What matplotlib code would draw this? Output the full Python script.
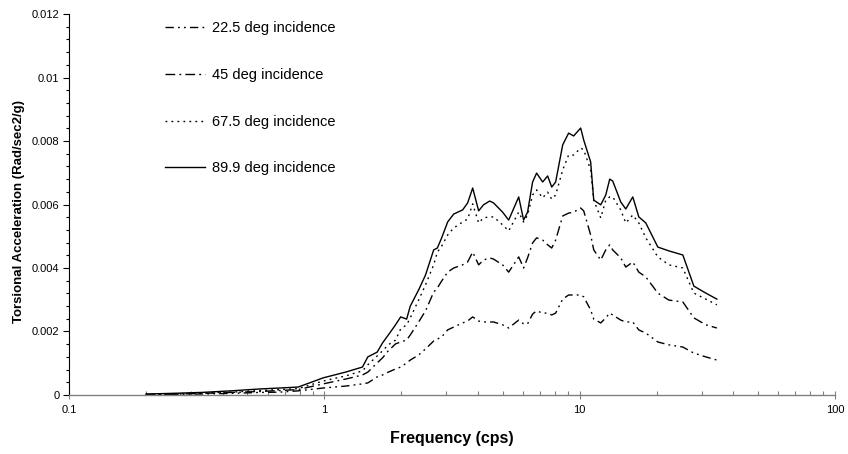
"""Torsional acceleration response spectra for four incidence angles."""

import matplotlib

matplotlib.use("Agg")

import matplotlib.pyplot as plt
from matplotlib.ticker import FixedLocator, MultipleLocator, NullFormatter


FREQUENCY = [
    0.20, 0.25, 0.33, 0.43, 0.56, 0.67, 0.79, 0.99, 1.21, 1.41,
    1.48, 1.61, 1.69, 1.78, 1.90, 1.99, 2.10, 2.17, 2.34, 2.49,
    2.68, 2.77, 2.88, 3.04, 3.21, 3.48, 3.64, 3.81, 4.02, 4.20,
    4.44, 4.60, 4.99, 5.27, 5.77, 6.03, 6.25, 6.54, 6.78, 7.16,
    7.49, 7.77, 8.05, 8.58, 9.05, 9.47, 10.09, 10.37, 11.04, 11.35,
    12.09, 12.65, 13.11, 13.47, 14.48, 15.15, 16.14, 17.04, 18.15, 20.23,
    22.34, 25.35, 27.99, 31.19, 34.45,
]

ACC_22_5 = [
    0.00001, 0.00002, 0.00003, 0.00005, 0.00008, 0.00009, 0.00013, 0.00022, 0.00028, 0.00035,
    0.00038, 0.00057, 0.00063, 0.00072, 0.00082, 0.00088, 0.00101, 0.00110, 0.00126, 0.00145,
    0.00170, 0.00176, 0.00183, 0.00205, 0.00214, 0.00227, 0.00233, 0.00246, 0.00233, 0.00230,
    0.00230, 0.00230, 0.00221, 0.00211, 0.00236, 0.00224, 0.00224, 0.00255, 0.00265, 0.00258,
    0.00258, 0.00252, 0.00258, 0.00302, 0.00315, 0.00315, 0.00315, 0.00309, 0.00268, 0.00239,
    0.00227, 0.00243, 0.00258, 0.00252, 0.00236, 0.00230, 0.00230, 0.00205, 0.00195, 0.00167,
    0.00158, 0.00151, 0.00132, 0.00120, 0.00110,
]

ACC_45 = [
    0.00002, 0.00002, 0.00005, 0.00008, 0.00011, 0.00014, 0.00017, 0.00035, 0.00050, 0.00063,
    0.00072, 0.00101, 0.00117, 0.00139, 0.00161, 0.00167, 0.00173, 0.00189, 0.00230, 0.00265,
    0.00324, 0.00337, 0.00359, 0.00387, 0.00400, 0.00410, 0.00419, 0.00450, 0.00410, 0.00425,
    0.00432, 0.00428, 0.00410, 0.00387, 0.00435, 0.00400, 0.00432, 0.00479, 0.00495, 0.00488,
    0.00473, 0.00463, 0.00488, 0.00564, 0.00573, 0.00576, 0.00589, 0.00580, 0.00504, 0.00457,
    0.00425, 0.00457, 0.00473, 0.00457, 0.00432, 0.00403, 0.00419, 0.00387, 0.00372, 0.00321,
    0.00299, 0.00293, 0.00243, 0.00221, 0.00211,
]

ACC_67_5 = [
    0.00002, 0.00003, 0.00006, 0.00009, 0.00014, 0.00017, 0.00020, 0.00044, 0.00060, 0.00076,
    0.00095, 0.00123, 0.00139, 0.00158, 0.00173, 0.00208, 0.00221, 0.00243, 0.00299, 0.00347,
    0.00410, 0.00450, 0.00469, 0.00504, 0.00526, 0.00545, 0.00554, 0.00602, 0.00542, 0.00558,
    0.00561, 0.00561, 0.00536, 0.00517, 0.00576, 0.00545, 0.00567, 0.00630, 0.00646, 0.00621,
    0.00639, 0.00617, 0.00630, 0.00709, 0.00756, 0.00756, 0.00778, 0.00772, 0.00709, 0.00614,
    0.00558, 0.00614, 0.00624, 0.00624, 0.00583, 0.00542, 0.00567, 0.00542, 0.00495, 0.00435,
    0.00410, 0.00400, 0.00321, 0.00302, 0.00284,
]

ACC_89_9 = [
    0.00003, 0.00005, 0.00008, 0.00013, 0.00019, 0.00022, 0.00025, 0.00054, 0.00072, 0.00088,
    0.00120, 0.00135, 0.00164, 0.00189, 0.00221, 0.00246, 0.00239, 0.00280, 0.00331, 0.00378,
    0.00457, 0.00463, 0.00495, 0.00545, 0.00570, 0.00583, 0.00605, 0.00652, 0.00580, 0.00599,
    0.00611, 0.00605, 0.00576, 0.00551, 0.00624, 0.00551, 0.00576, 0.00671, 0.00699, 0.00671,
    0.00690, 0.00655, 0.00671, 0.00788, 0.00825, 0.00816, 0.00841, 0.00803, 0.00734, 0.00614,
    0.00599, 0.00630, 0.00680, 0.00674, 0.00608, 0.00586, 0.00624, 0.00561, 0.00542, 0.00466,
    0.00454, 0.00441, 0.00343, 0.00321, 0.00302,
]

SERIES_LABELS = [
    "22.5 deg incidence",
    "45 deg incidence",
    "67.5 deg incidence",
    "89.9 deg incidence",
]

Y_TICKS = [0, 0.002, 0.004, 0.006, 0.008, 0.01, 0.012]
Y_TICK_LABELS = ["0", "0.002", "0.004", "0.006", "0.008", "0.01", "0.012"]
X_TICKS = [0.1, 1, 10, 100]
X_TICK_LABELS = ["0.1", "1", "10", "100"]

LINE_DASHES = [
    (6, 3, 1.3, 3, 1.3, 3),
    (7, 3, 1.3, 3),
    (1.3, 3),
    None,
]

FONT = "Liberation Sans"


def draw_chart():
    plt.rcParams["font.family"] = [FONT, "DejaVu Sans"]
    fig = plt.figure(figsize=(8.48, 4.54), dpi=100)
    ax = fig.add_axes([0.0814, 0.130, 0.9033, 0.839])

    all_series = [ACC_22_5, ACC_45, ACC_67_5, ACC_89_9]
    for values, label, dashes in zip(all_series, SERIES_LABELS, LINE_DASHES):
        line, = ax.plot(FREQUENCY, values, color="black", linewidth=1.0, label=label)
        if dashes is not None:
            line.set_dashes(dashes)

    ax.set_xscale("log")
    ax.set_xlim(0.1, 100)
    ax.set_ylim(0, 0.012)

    ax.set_xticks(X_TICKS)
    ax.set_xticklabels(X_TICK_LABELS)
    minor_x = [m * 10.0 ** e for e in (-1, 0, 1) for m in range(2, 10)]
    ax.xaxis.set_minor_locator(FixedLocator(minor_x))
    ax.xaxis.set_minor_formatter(NullFormatter())
    ax.tick_params(axis="x", which="major", direction="inout", length=6,
                   width=0.8, color="#808080", labelsize=8, pad=4)
    ax.tick_params(axis="x", which="minor", direction="in", length=3,
                   width=0.8, color="#808080")

    ax.set_yticks(Y_TICKS)
    ax.set_yticklabels(Y_TICK_LABELS)
    ax.yaxis.set_minor_locator(MultipleLocator(0.0004))
    ax.tick_params(axis="y", which="major", direction="out", length=4,
                   width=0.8, labelsize=8, pad=3)
    ax.tick_params(axis="y", which="minor", direction="out", length=2, width=0.8)

    for side in ("top", "right"):
        ax.spines[side].set_visible(False)
    ax.spines["left"].set_linewidth(0.8)
    ax.spines["bottom"].set_color("#808080")
    ax.spines["bottom"].set_linewidth(1.0)

    ax.set_xlabel("Frequency (cps)", fontsize=11.5, fontweight="bold", labelpad=12)
    ax.set_ylabel("Torsional Acceleration (Rad/sec2/g)", fontsize=9.5,
                  fontweight="bold")
    ax.yaxis.set_label_coords(-0.058, 0.483)

    ax.legend(loc="upper left", bbox_to_anchor=(0.1946, 0.953),
              bbox_transform=fig.transFigure, frameon=False, fontsize=10.5,
              handlelength=2.74, handletextpad=0.48, labelspacing=2.24,
              borderaxespad=0, borderpad=0)

    fig.savefig("out.png", dpi=100)
    plt.close(fig)


if __name__ == "__main__":
    draw_chart()
